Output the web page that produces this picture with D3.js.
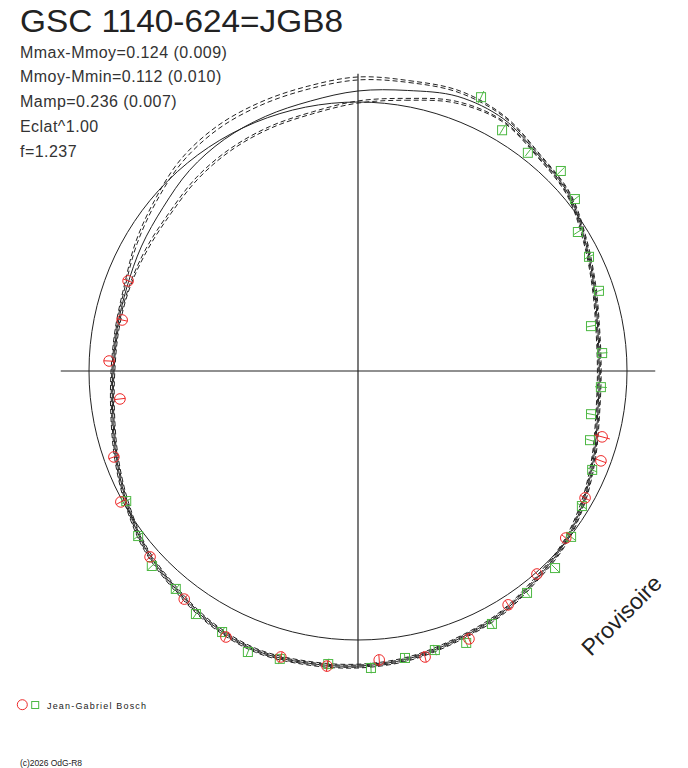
<!DOCTYPE html>
<html><head><meta charset="utf-8">
<script src="https://cdn.jsdelivr.net/npm/d3@7"></script>
<style>body{margin:0;background:#fff}svg{display:block}</style>
</head><body><svg id="c" width="688" height="768"></svg>
<script>
// ---------- data ----------
const title = "GSC 1140-624=JGB8";
const infoLines = ["Mmax-Mmoy=0.124 (0.009)", "Mmoy-Mmin=0.112 (0.010)", "Mamp=0.236 (0.007)", "Eclat^1.00", "f=1.237"];
const observer = "Jean-Gabriel Bosch";
const stampText = "Provisoire";
const creditText = "(c)2026 OdG-R8";
const axisExtent = 1.105;   // relative to reference circle (r = 1)

// sample angles (degrees, clockwise from top) of the fitted curves
const curveAngles = [0,10,20,30,40,50,60,70,80,90,100,110,120,130,140,150,160,170,180,190,200,210,220,230,240,250,260,270,280,290,300,310,320,330,340,350];
const fitRadius = [1.041,1.059,1.086,1.082,1.045,1.022,0.974,0.933,0.905,0.897,0.905,0.933,0.968,1.000,1.020,1.048,1.065,1.086,1.097,1.102,1.106,1.087,1.056,1.030,0.991,0.955,0.926,0.911,0.909,0.914,0.929,0.946,0.974,0.994,1.007,1.019];
const upperA = [1.093,1.096,1.108,1.093,1.052,1.029,0.981,0.940,0.912,0.904,0.912,0.940,0.975,1.007,1.027,1.055,1.072,1.093,1.104,1.109,1.113,1.094,1.063,1.037,0.998,0.962,0.933,0.918,0.916,0.925,0.955,0.987,1.026,1.050,1.063,1.075];
const upperB = [1.082,1.089,1.101,1.089,1.049,1.026,0.978,0.937,0.909,0.901,0.909,0.937,0.972,1.004,1.024,1.052,1.069,1.090,1.101,1.106,1.110,1.091,1.060,1.034,0.995,0.959,0.930,0.915,0.913,0.921,0.948,0.979,1.015,1.039,1.052,1.064];
const lowerA = [1.004,1.029,1.067,1.075,1.041,1.018,0.970,0.929,0.901,0.893,0.901,0.929,0.964,0.996,1.016,1.044,1.061,1.082,1.093,1.098,1.102,1.083,1.052,1.026,0.987,0.951,0.922,0.907,0.905,0.907,0.910,0.916,0.937,0.953,0.966,0.978];
const lowerB = [0.996,1.022,1.060,1.071,1.038,1.015,0.967,0.926,0.898,0.890,0.898,0.926,0.961,0.993,1.013,1.041,1.058,1.079,1.090,1.095,1.099,1.080,1.049,1.023,0.984,0.948,0.919,0.904,0.902,0.903,0.903,0.909,0.929,0.946,0.959,0.971];

// observations (green squares)
const greenAngle = [24.2,30.9,37.9,45.4,51.6,57.7,63.7,71.6,79.1,85.8,93.8,100.5,106.6,112.9,121.1,127.9,135.0,142.7,152.1,158.3,164.6,170.7,177.5,185.8,195.2,201.4,207.5,213.7,219.9,226.6,233.1,240.7];
const greenRadius = [1.116,1.043,1.028,1.059,1.029,0.967,0.958,0.944,0.882,0.910,0.905,0.881,0.900,0.945,0.972,1.004,1.036,1.037,1.064,1.088,1.076,1.081,1.105,1.095,1.109,1.122,1.094,1.086,1.056,1.055,1.022,0.988];
const greenErr = [0.025,0.020,0.015,0.020,0.020,0.018,0.020,0.020,0.018,0.020,0.022,0.015,0.015,0.020,0.020,0.020,0.020,0.018,0.020,0.020,0.020,0.015,0.020,0.020,0.020,0.020,0.020,0.020,0.020,0.020,0.020,0.020];
// observations (red circles)
const redAngle = [105.1,110.3,119.2,128.8,138.6,147.3,157.5,166.8,175.8,186.0,195.1,206.4,217.3,228.2,241.1,250.6,263.3,272.3,282.2,291.4];
const redRadius = [0.940,0.963,0.967,0.991,1.006,1.033,1.078,1.092,1.077,1.103,1.101,1.104,1.066,1.037,1.007,0.962,0.891,0.926,0.897,0.918];
const redErr = [0.030,0.020,0.020,0.020,0.020,0.020,0.020,0.020,0.020,0.020,0.020,0.020,0.020,0.020,0.020,0.020,0.020,0.020,0.020,0.020];

// ---------- drawing ----------
const svg = d3.select("#c");
const font = "'Liberation Sans', Arial, sans-serif";
const ink = "#222";
const cx = 358, cy = 371;
const r = d3.scaleLinear().domain([0, 1]).range([0, 269]);
const deg = d3.scaleLinear().domain([0, 360]).range([0, 2 * Math.PI]);
const g = svg.append("g").attr("transform", `translate(${cx},${cy})`);

// reference circle
g.append("circle").attr("r", r(1)).attr("fill", "none").attr("stroke", ink).attr("stroke-width", 1);
// axes
const ext = r(axisExtent);
g.append("line").attr("x1", -ext).attr("x2", ext).attr("y1", 0).attr("y2", 0).attr("stroke", ink).attr("stroke-width", 1.2);
g.append("line").attr("x1", 0).attr("x2", 0).attr("y1", -ext).attr("y2", ext).attr("stroke", ink).attr("stroke-width", 1.2);

const radial = d3.lineRadial()
  .angle(d => deg(d[0]))
  .radius(d => r(d[1]))
  .curve(d3.curveCatmullRomClosed.alpha(0.5));
const mk = arr => curveAngles.map((a, i) => [a, arr[i]]);

[upperA, upperB, lowerA, lowerB].forEach(arr => {
  g.append("path").attr("d", radial(mk(arr))).attr("fill", "none")
    .attr("stroke", ink).attr("stroke-width", 1).attr("stroke-dasharray", "5,3");
});
g.append("path").attr("d", radial(mk(fitRadius))).attr("fill", "none").attr("stroke", ink).attr("stroke-width", 1);

function pos(a, rr) {
  const t = deg(a);
  return [r(rr) * Math.sin(t), -r(rr) * Math.cos(t)];
}

const green = "#4db843", red = "#ee2a2a";
// green squares
greenAngle.forEach((a, i) => {
  const p = pos(a, greenRadius[i]);
  const p1 = pos(a, greenRadius[i] - greenErr[i]);
  const p2 = pos(a, greenRadius[i] + greenErr[i]);
  g.append("rect").attr("x", p[0] - 4.5).attr("y", p[1] - 4.5).attr("width", 9).attr("height", 9)
    .attr("fill", "none").attr("stroke", green).attr("stroke-width", 1);
  g.append("line").attr("x1", p1[0]).attr("y1", p1[1]).attr("x2", p2[0]).attr("y2", p2[1])
    .attr("stroke", green).attr("stroke-width", 1);
});
// red circles
redAngle.forEach((a, i) => {
  const p = pos(a, redRadius[i]);
  const p1 = pos(a, redRadius[i] - redErr[i]);
  const p2 = pos(a, redRadius[i] + redErr[i]);
  g.append("circle").attr("cx", p[0]).attr("cy", p[1]).attr("r", 5.3)
    .attr("fill", "none").attr("stroke", red).attr("stroke-width", 1);
  g.append("line").attr("x1", p1[0]).attr("y1", p1[1]).attr("x2", p2[0]).attr("y2", p2[1])
    .attr("stroke", red).attr("stroke-width", 1);
});

// title & info
svg.append("text").attr("x", 20).attr("y", 32).attr("font-family", font).attr("font-size", 32)
  .attr("fill", ink).attr("textLength", 323).attr("lengthAdjust", "spacingAndGlyphs").text(title);
infoLines.forEach((t, i) => {
  svg.append("text").attr("x", 20).attr("y", 57.5 + i * 24.8).attr("font-family", font)
    .attr("font-size", 16).attr("letter-spacing", 0.45).attr("fill", "#333").text(t);
});

// stamp
svg.append("text").attr("transform", "translate(591,657) rotate(-45)")
  .attr("font-family", font).attr("font-size", 23).attr("fill", ink).text(stampText);

// legend
svg.append("circle").attr("cx", 22.3).attr("cy", 704.7).attr("r", 5).attr("fill", "none").attr("stroke", red).attr("stroke-width", 1);
svg.append("rect").attr("x", 31.7).attr("y", 701.5).attr("width", 7).attr("height", 7).attr("fill", "none").attr("stroke", green).attr("stroke-width", 1);
svg.append("text").attr("x", 47).attr("y", 709).attr("font-family", font).attr("font-size", 9)
  .attr("fill", ink).attr("textLength", 99).attr("lengthAdjust", "spacing").text(observer);
svg.append("text").attr("x", 20).attr("y", 766).attr("font-family", font).attr("font-size", 8.5)
  .attr("fill", ink).attr("textLength", 62).attr("lengthAdjust", "spacing").text(creditText);
</script></body></html>
